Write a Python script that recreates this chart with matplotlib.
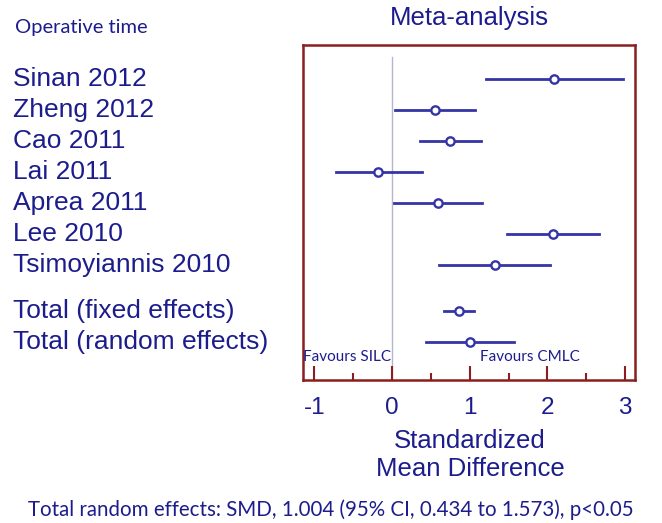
import matplotlib
matplotlib.use("Agg")
import matplotlib.pyplot as plt
from matplotlib.transforms import blended_transform_factory
from matplotlib.ticker import MultipleLocator

studies = ["Sinan 2012", "Zheng 2012", "Cao 2011", "Lai 2011", "Aprea 2011",
           "Lee 2010", "Tsimoyiannis 2010", "Total (fixed effects)", "Total (random effects)"]
smd = [2.08, 0.55, 0.75, -0.18, 0.59, 2.07, 1.32, 0.86, 1.004]
ci_low = [1.21, 0.04, 0.36, -0.72, 0.02, 1.48, 0.61, 0.67, 0.434]
ci_high = [2.97, 1.07, 1.14, 0.39, 1.16, 2.66, 2.03, 1.05, 1.573]
rows = [0, 1, 2, 3, 4, 5, 6, 7.5, 8.5]
xticks = [-1, 0, 1, 2, 3]

TXT = "#1c1c8c"
LINE = "#3434a6"
BOX = "#8b1f1f"

fig = plt.figure(figsize=(6.62, 5.23), dpi=100)
ax = fig.add_axes([0.4573, 0.2734, 0.5019, 0.6406])
ax.set_xlim(-1.149, 3.128)
ax.set_ylim(9.73, -1.11)

ax.plot([0, 0], [-0.72, 9.73], color="#b4b4cc", lw=1.0, zorder=1)
for y, m, lo, hi in zip(rows, smd, ci_low, ci_high):
    ax.plot([lo, hi], [y, y], color=LINE, lw=2.0, zorder=2)
    ax.plot([m], [y], marker="o", ms=6, mfc="white", mec=LINE, mew=1.7, zorder=3)

for s in ax.spines.values():
    s.set_color(BOX)
    s.set_linewidth(1.8)

ax.set_yticks([])
ax.set_xticks(xticks)
ax.set_xticklabels([str(t) for t in xticks], fontsize=17.5, color=TXT, family="Liberation Sans")
ax.xaxis.set_minor_locator(MultipleLocator(0.5))
ax.tick_params(axis="x", which="major", direction="in", length=10, width=1.5, color=BOX, pad=12)
ax.tick_params(axis="x", which="minor", direction="in", length=5, width=1.5, color=BOX)

fig.text(469 / 662, 1 - 18 / 523, "Meta-analysis", ha="center", va="center",
         fontsize=18.5, color=TXT, family="Liberation Sans")

ax.text(-1.14, 8.99, "Favours SILC", ha="left", va="center", fontsize=11, color=TXT, family="Lato")
ax.text(1.127, 8.99, "Favours CMLC", ha="left", va="center", fontsize=11, color=TXT, family="Lato")

tr = blended_transform_factory(fig.transFigure, ax.transData)
for y, name in zip(rows, studies):
    ax.text(13 / 662, y, name, transform=tr, ha="left", va="center", fontsize=19,
            color=TXT, family="Liberation Sans", clip_on=False)

fig.text(15 / 662, 1 - 28 / 523, "Operative time", ha="left", va="center", fontsize=14.5,
         color=TXT, family="Lato")
fig.text(470 / 662, 1 - 455 / 523, "Standardized\nMean Difference", ha="center", va="center",
         fontsize=18.5, color=TXT, family="Liberation Sans", linespacing=1.2)
fig.text(331 / 662, 1 - 510 / 523,
         "Total random effects: SMD, 1.004 (95% CI, 0.434 to 1.573), p<0.05",
         ha="center", va="center", fontsize=14.8, color=TXT, family="Lato")

fig.savefig("out.png", dpi=100)
